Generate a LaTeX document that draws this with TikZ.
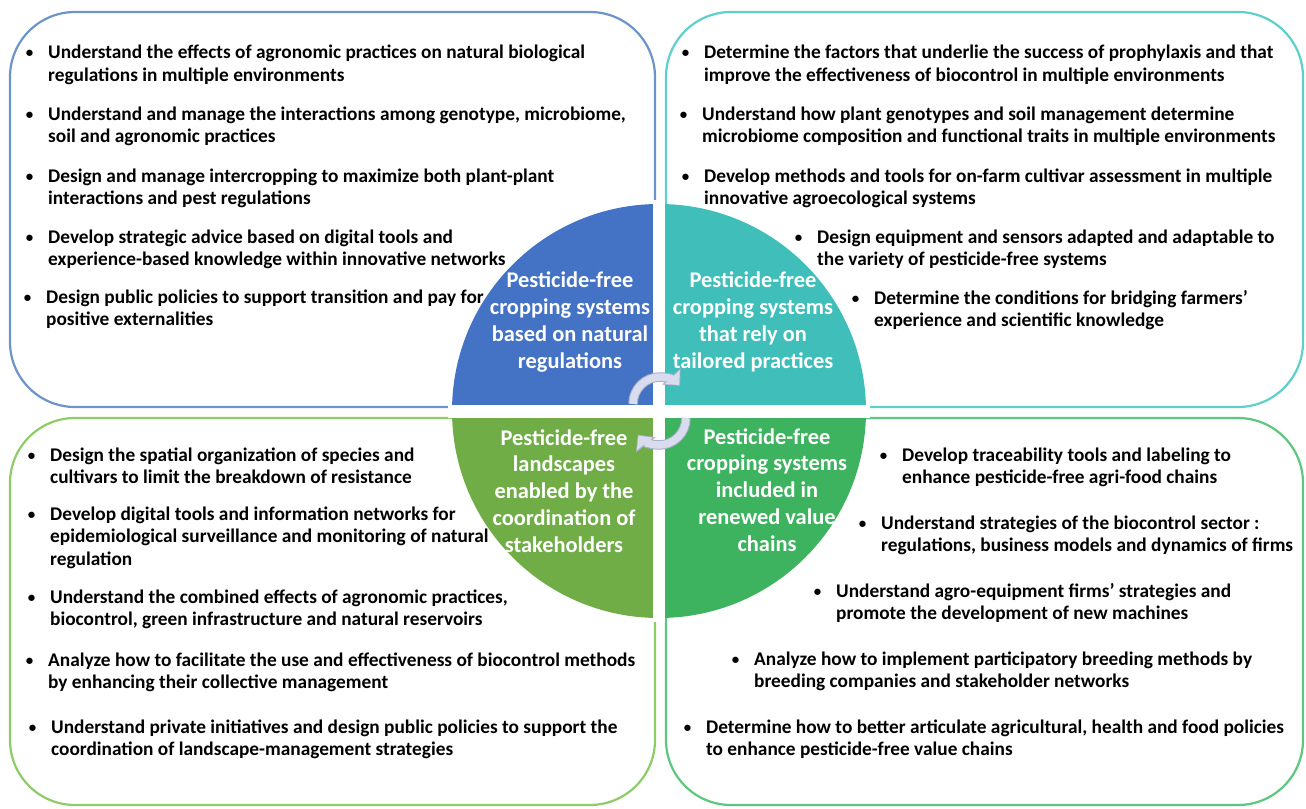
\documentclass[tikz,border=0pt]{standalone}
\usepackage{fontspec}
\setmainfont{Carlito}
\usetikzlibrary{positioning, arrows.meta, calc}
\definecolor{QuadBlue}{HTML}{4472C4}
\definecolor{QuadTeal}{HTML}{40BEB9}
\definecolor{QuadLeaf}{HTML}{70AD47}
\definecolor{QuadGreen}{HTML}{3DB35F}
\definecolor{EdgeBlue}{HTML}{6D93C9}
\definecolor{EdgeTeal}{HTML}{5ECFCB}
\definecolor{EdgeLeaf}{HTML}{8FCB68}
\definecolor{EdgeGreen}{HTML}{5CC77E}
\definecolor{CycleFill}{HTML}{D8DCEE}
\definecolor{CycleLine}{HTML}{A9AFC8}
\newcommand{\blist}[1]{\begin{tabular}[t]{@{}l@{}}\llap{\raisebox{1bp}{\fontsize{15}{15}\selectfont\textbullet}\hspace{15bp}}#1\end{tabular}}
\tikzset{
  item/.style={anchor=base west, inner sep=0pt, font=\fontsize{19.4}{23}\selectfont\bfseries},
  quadtext/.style={align=center, inner sep=0pt, text=white, font=\fontsize{22.5}{27}\selectfont\bfseries},
  panel/.style={line width=2.2bp, rounded corners=65bp},
}

\begin{document}
\begin{tikzpicture}[x=1bp, y=-1bp]
                \useasboundingbox (0,0) rectangle (1306,808);
                % Paneles
                \draw[panel, EdgeBlue] (10,12) rectangle (655,407);
                \draw[panel, EdgeTeal] (666,12) rectangle (1303,407);
                \draw[panel, EdgeLeaf] (10,418) rectangle (655,805);
                \draw[panel, EdgeGreen] (666,418) rectangle (1303,805);
                
                % Circulo
                \coordinate (c) at (659,411);
                \fill[QuadBlue] (c) -- ++(-207,0) arc[start angle=180, end angle=270, radius=207] -- cycle;
                \fill[QuadTeal] (c) -- ++(0,-207) arc[start angle=270, end angle=360, radius=207] -- cycle;
                \fill[QuadGreen] (c) -- ++(207,0) arc[start angle=0, end angle=90, radius=207] -- cycle;
                \fill[QuadLeaf] (c) -- ++(0,207) arc[start angle=90, end angle=180, radius=207] -- cycle;
                \fill[white] (653,200) rectangle (665,622);
                \fill[white] (448,405) rectangle (870,418);
                
                % Flechas de ciclo
                \coordinate (up) at (660,404);
                \coordinate (down) at (659,418);
                \draw[CycleLine, line width=9.5bp, -{Triangle[width=24bp, length=13bp]}] ($(up)+(-27,0)$) arc[start angle=180, end angle=318, radius=27];
                \draw[CycleFill, line width=7.5bp, shorten >=1.3bp, -{Triangle[width=20bp, length=10.5bp]}] ($(up)+(-27,0)$) arc[start angle=180, end angle=318, radius=27];
                \draw[CycleLine, line width=9.5bp, -{Triangle[width=24bp, length=13bp]}] ($(down)+(27,0)$) arc[start angle=0, end angle=142, radius=27];
                \draw[CycleFill, line width=7.5bp, shorten >=1.3bp, -{Triangle[width=20bp, length=10.5bp]}] ($(down)+(27,0)$) arc[start angle=0, end angle=142, radius=27];
                
                % Textos del circulo
                \node[quadtext] (qnat) at (570,322) {Pesticide-free\\cropping systems\\based on natural\\regulations};
                \node[quadtext] (qtail) at (753,322) {Pesticide-free\\cropping systems\\that rely on\\tailored practices};
                \node[quadtext] (qland) at (564,491) {Pesticide-free\\landscapes\\enabled by the\\coordination of\\stakeholders};
                \node[quadtext] (qvalue) at (767,490) {Pesticide-free\\cropping systems\\included in\\renewed value\\chains};
                
                % Arriba izquierda
                \node[item] (tl1) at (48,59) {\blist{Understand the effects of agronomic practices on natural biological\\regulations in multiple environments}};
                \node[item] (tl2) at (48,120) {\blist{Understand and manage the interactions among genotype, microbiome,\\soil and agronomic practices}};
                \node[item] (tl3) at (48,182) {\blist{Design and manage intercropping to maximize both plant-plant\\interactions and pest regulations}};
                \node[item] (tl4) at (48,243) {\blist{Develop strategic advice based on digital tools and\\experience-based knowledge within innovative networks}};
                \node[item] (tl5) at (46,303) {\blist{Design public policies to support transition and pay for\\positive externalities}};
                
                % Arriba derecha
                \node[item] (tr1) at (704,59) {\blist{Determine the factors that underlie the success of prophylaxis and that\\improve the effectiveness of biocontrol in multiple environments}};
                \node[item] (tr2) at (702,120) {\blist{Understand how plant genotypes and soil management determine\\microbiome composition and functional traits in multiple environments}};
                \node[item] (tr3) at (704,182) {\blist{Develop methods and tools for on-farm cultivar assessment in multiple\\innovative agroecological systems}};
                \node[item] (tr4) at (817,243) {\blist{Design equipment and sensors adapted and adaptable to\\the variety of pesticide-free systems}};
                \node[item] (tr5) at (874,304) {\blist{Determine the conditions for bridging farmers'\\experience and scientific knowledge}};
                
                % Abajo izquierda
                \node[item] (bl1) at (50,461) {\blist{Design the spatial organization of species and\\cultivars to limit the breakdown of resistance}};
                \node[item] (bl2) at (50,520) {\blist{Develop digital tools and information networks for\\epidemiological surveillance and monitoring of natural\\regulation}};
                \node[item] (bl3) at (50,603) {\blist{Understand the combined effects of agronomic practices,\\biocontrol, green infrastructure and natural reservoirs}};
                \node[item] (bl4) at (48,666) {\blist{Analyze how to facilitate the use and effectiveness of biocontrol methods\\by enhancing their collective management}};
                \node[item] (bl5) at (51,733) {\blist{Understand private initiatives and design public policies to support the\\coordination of landscape-management strategies}};
                
                % Abajo derecha
                \node[item] (br1) at (902,461) {\blist{Develop traceability tools and labeling to\\enhance pesticide-free agri-food chains}};
                \node[item] (br2) at (881,529) {\blist{Understand strategies of the biocontrol sector :\\regulations, business models and dynamics of firms}};
                \node[item] (br3) at (836,597) {\blist{Understand agro-equipment firms' strategies and\\promote the development of new machines}};
                \node[item] (br4) at (754,665) {\blist{Analyze how to implement participatory breeding methods by\\breeding companies and stakeholder networks}};
                \node[item] (br5) at (706,733) {\blist{Determine how to better articulate agricultural, health and food policies\\to enhance pesticide-free value chains}};
                
            \end{tikzpicture}
\end{document}
